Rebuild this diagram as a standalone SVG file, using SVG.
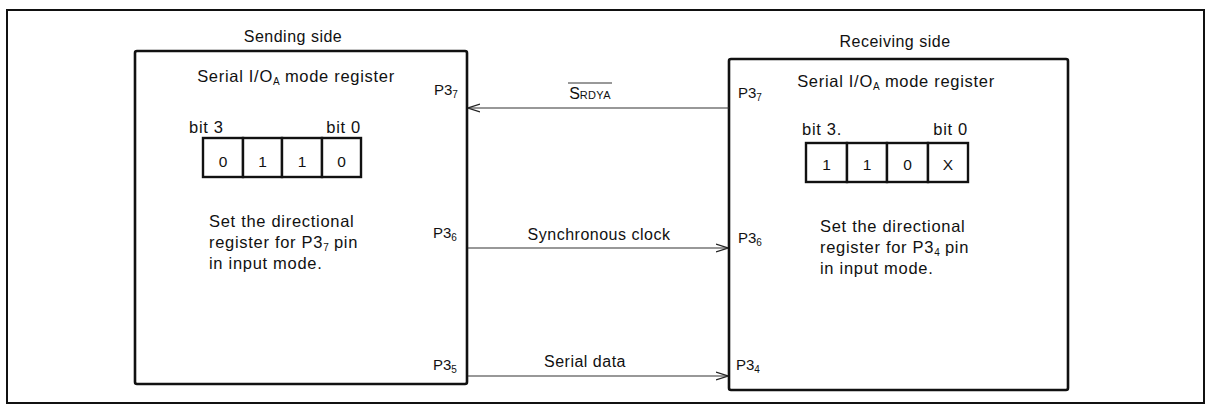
<svg xmlns="http://www.w3.org/2000/svg" width="1209" height="406" viewBox="0 0 1209 406">
  <defs>
    <style>
      .frame { fill: none; stroke: #111; stroke-width: 2; }
      .box { fill: none; stroke: #111; stroke-width: 2.6; }
      .cell { fill: #fff; stroke: #111; stroke-width: 2.4; }
      .wire { fill: none; stroke: #333; stroke-width: 1.2; }
      text { font-family: "Liberation Sans", Arial, sans-serif; fill: #111; }
      .t { font-size: 16.5px; letter-spacing: 0.7px; }
      .lbl { font-size: 16px; letter-spacing: 0.5px; }
      .title { font-size: 16px; letter-spacing: 0.5px; }
      .pin { font-size: 15px; }
      .sub { font-size: 10px; letter-spacing: 0; }
      .digit { font-size: 15.5px; text-anchor: middle; }
    </style>
    <marker id="arrow" viewBox="0 0 12 10" refX="12" refY="5" markerWidth="12" markerHeight="10" markerUnits="userSpaceOnUse" orient="auto">
      <path d="M0,1 L12,5 L0,9" fill="none" stroke="#222" stroke-width="1.3"/>
    </marker>
  </defs>

  <rect x="0" y="0" width="1209" height="406" fill="#fff"/>

  <!-- outer frame -->
  <rect class="frame" x="7" y="10" width="1197" height="393"/>

  <!-- sending side -->
  <g id="sending">
    <text class="title" x="293" y="42" text-anchor="middle">Sending side</text>
    <rect class="box" x="135" y="51" width="332" height="333" rx="2"/>
    <text class="t" x="296" y="82" text-anchor="middle">Serial I/O<tspan class="sub" dy="3">A</tspan><tspan dy="-3"> mode register</tspan></text>
    <text class="t" x="189" y="133">bit 3</text>
    <text class="t" x="361" y="133" text-anchor="end">bit 0</text>
    <g id="sending-register">
      <rect class="cell" x="203" y="138" width="40" height="39"/>
      <rect class="cell" x="243" y="138" width="39" height="39"/>
      <rect class="cell" x="282" y="138" width="40" height="39"/>
      <rect class="cell" x="322" y="138" width="39" height="39"/>
      <text class="digit" x="223" y="167">0</text>
      <text class="digit" x="262.5" y="167">1</text>
      <text class="digit" x="302" y="167">1</text>
      <text class="digit" x="341.5" y="167">0</text>
    </g>
    <text class="t" x="209" y="227">Set the directional</text>
    <text class="t" x="209" y="248">register for P3<tspan class="sub" dy="3">7</tspan><tspan dy="-3"> pin</tspan></text>
    <text class="t" x="209" y="269">in input mode.</text>
    <text class="pin" x="434" y="95">P3<tspan class="sub" dy="3">7</tspan></text>
    <text class="pin" x="433" y="238">P3<tspan class="sub" dy="3">6</tspan></text>
    <text class="pin" x="433" y="370">P3<tspan class="sub" dy="3">5</tspan></text>
  </g>

  <!-- receiving side -->
  <g id="receiving">
    <text class="title" x="895" y="47" text-anchor="middle">Receiving side</text>
    <rect class="box" x="729" y="59" width="339" height="331" rx="2"/>
    <text class="t" x="896" y="87" text-anchor="middle">Serial I/O<tspan class="sub" dy="3">A</tspan><tspan dy="-3"> mode register</tspan></text>
    <text class="t" x="802" y="135">bit 3.</text>
    <text class="t" x="968" y="135" text-anchor="end">bit 0</text>
    <g id="receiving-register">
      <rect class="cell" x="806" y="143" width="41" height="39"/>
      <rect class="cell" x="847" y="143" width="40" height="39"/>
      <rect class="cell" x="887" y="143" width="41" height="39"/>
      <rect class="cell" x="928" y="143" width="40" height="39"/>
      <text class="digit" x="826.5" y="170">1</text>
      <text class="digit" x="867" y="170">1</text>
      <text class="digit" x="907.5" y="170">0</text>
      <text class="digit" x="948" y="170">X</text>
    </g>
    <text class="t" x="820" y="232">Set the directional</text>
    <text class="t" x="820" y="253">register for P3<tspan class="sub" dy="3">4</tspan><tspan dy="-3"> pin</tspan></text>
    <text class="t" x="820" y="274">in input mode.</text>
    <text class="pin" x="738" y="98">P3<tspan class="sub" dy="3">7</tspan></text>
    <text class="pin" x="738" y="243">P3<tspan class="sub" dy="3">6</tspan></text>
    <text class="pin" x="736" y="370">P3<tspan class="sub" dy="3">4</tspan></text>
  </g>

  <!-- signal lines between the two sides -->
  <g id="connectors">
    <line class="wire" x1="729" y1="108" x2="468" y2="108" marker-end="url(#arrow)"/>
    <line class="wire" x1="468" y1="248" x2="728" y2="248" marker-end="url(#arrow)"/>
    <line class="wire" x1="468" y1="376" x2="728" y2="376" marker-end="url(#arrow)"/>
    <text x="590" y="99" text-anchor="middle"><tspan style="font-size:16px">S</tspan><tspan style="font-size:11px;letter-spacing:0.3px">RDYA</tspan></text>
    <line x1="568" y1="83" x2="612" y2="83" stroke="#333" stroke-width="1"/>
    <text class="lbl" x="599" y="240" text-anchor="middle">Synchronous clock</text>
    <text class="lbl" x="585" y="367" text-anchor="middle">Serial data</text>
  </g>
</svg>
